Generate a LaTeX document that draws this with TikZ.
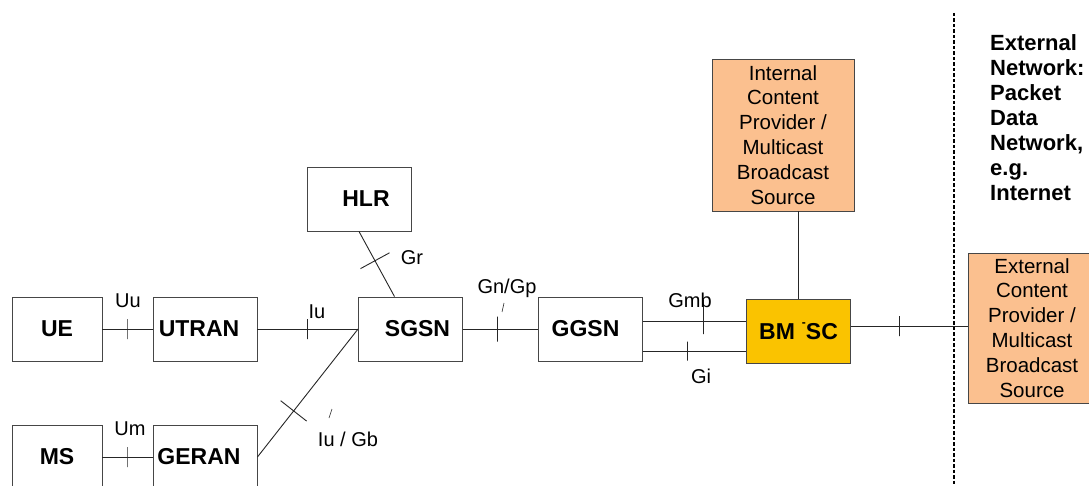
\documentclass[tikz,border=0pt]{standalone}
\usepackage{fontspec}
\setmainfont{Liberation Sans}
\usetikzlibrary{positioning,calc}

\definecolor{srcfill}{RGB}{251,192,143}
\definecolor{bmfill}{RGB}{250,195,0}
\definecolor{edgegray}{RGB}{70,70,70}

\begin{document}
\begin{tikzpicture}[x=1pt, y=-1pt,
  box/.style={rectangle, draw=edgegray, line width=0.9pt,
    minimum width=104pt, minimum height=64pt, inner sep=0pt,
    align=center, font=\fontsize{23}{27}\selectfont\bfseries},
  srcbox/.style={box, fill=srcfill, minimum width=142pt, minimum height=152pt,
    font=\fontsize{20.5}{24.9}\selectfont},
  bmbox/.style={box, fill=bmfill},
  link/.style={draw=black!85, line width=0.9pt},
  tick/.style={draw=black!85, line width=0.9pt, rectangle, inner sep=0pt,
    minimum width=0pt, minimum height=20pt, sloped},
  lbl/.style={font=\fontsize{20}{24}\selectfont, inner sep=0pt, anchor=base},
  divider/.style={line width=1.4pt, dash pattern=on 3.5pt off 2pt}
]
\useasboundingbox (0,0) rectangle (1089,486);

% Radio side
\node[box, minimum width=90pt] (ue) at (57,329) {UE};
\node[box] (utran) at (205,329) {UTRAN\hspace{12pt}};
\node[box, minimum width=90pt] (ms) at (57,457) {MS};
\node[box] (geran) at (205,457) {GERAN\hspace{12pt}};

% Core network
\node[box] (hlr) at (359,199) {\hspace{14pt}HLR};
\node[box] (sgsn) at (410.5,329) {\hspace{14pt}SGSN};
\node[box] (ggsn) at (590.5,329) {GGSN\hspace{10pt}};
\node[bmbox] (bmsc) at (798.5,331.5) {BM\hspace{7pt}\raisebox{0.55em}{\fontsize{12}{12}\selectfont -}SC};

% Content sources
\node[srcbox] (icp) at (783,135) {Internal\\Content\\Provider /\\Multicast\\Broadcast\\Source};
\node[srcbox, minimum width=128pt, minimum height=150pt] (ecp) at (1032,328)
  {External\\Content\\Provider /\\Multicast\\Broadcast\\Source};
\node[font=\fontsize{22}{25}\selectfont\bfseries, align=left, anchor=north west,
  inner sep=0pt] (extnet) at (990,34)
  {External\\Network:\\Packet\\Data\\Network,\\e.g.\\Internet};

% Interfaces
\draw[link] (ue) -- node[tick, pos=0.49]{} (utran);
\draw[link] (ms) -- node[tick, pos=0.49]{} (geran);
\draw[link] (utran) -- node[tick, pos=0.5]{} (sgsn);
\draw[link] (geran.east) -- node[tick, pos=0.36, minimum height=33pt]{} (sgsn.west);
\draw[link] (hlr.south) -- node[tick, pos=0.45, minimum height=33pt]{} ([xshift=-16pt]sgsn.north);
\draw[link] (sgsn) -- node[tick, pos=0.46, minimum height=25pt]{} (ggsn);

\coordinate (gmbA) at ([yshift=8pt]ggsn.east);
\coordinate (gmbB) at (gmbA -| bmsc.west);
\coordinate (giA) at ([yshift=-22pt]ggsn.east);
\coordinate (giB) at (giA -| bmsc.west);
\draw[link] (gmbA) -- node[tick, pos=0.59, minimum height=34pt, yshift=4pt]{} (gmbB);
\draw[link] (giA) -- node[tick, pos=0.43, minimum height=19pt]{} (giB);

\draw[link] (bmsc.north) -- (bmsc.north |- icp.south);
\coordinate (extA) at ([yshift=5.5pt]bmsc.east);
\coordinate (extB) at (extA -| ecp.west);
\draw[link] (extA) -- node[tick, pos=0.415]{} (extB);

% stray marks
\draw[link, line width=0.6pt] (329,418) -- (332,409);
\draw[link, line width=0.6pt] (502,312) -- (504,303);

% Labels
\node[lbl] (uu) at (128,307) {Uu};
\node[lbl] (iu) at (317,318) {Iu};
\node[lbl] (um) at (130,435) {Um};
\node[lbl] (iugb) at (348,446) {Iu / Gb};
\node[lbl] (gr) at (412,265) {Gr};
\node[lbl] (gngp) at (507,293) {Gn/Gp};
\node[lbl] (gmb) at (690,307) {Gmb};
\node[lbl] (gi) at (701,383) {Gi};

% Network border
\draw[divider] (954,13) -- (954,486);

\end{tikzpicture}
\end{document}
